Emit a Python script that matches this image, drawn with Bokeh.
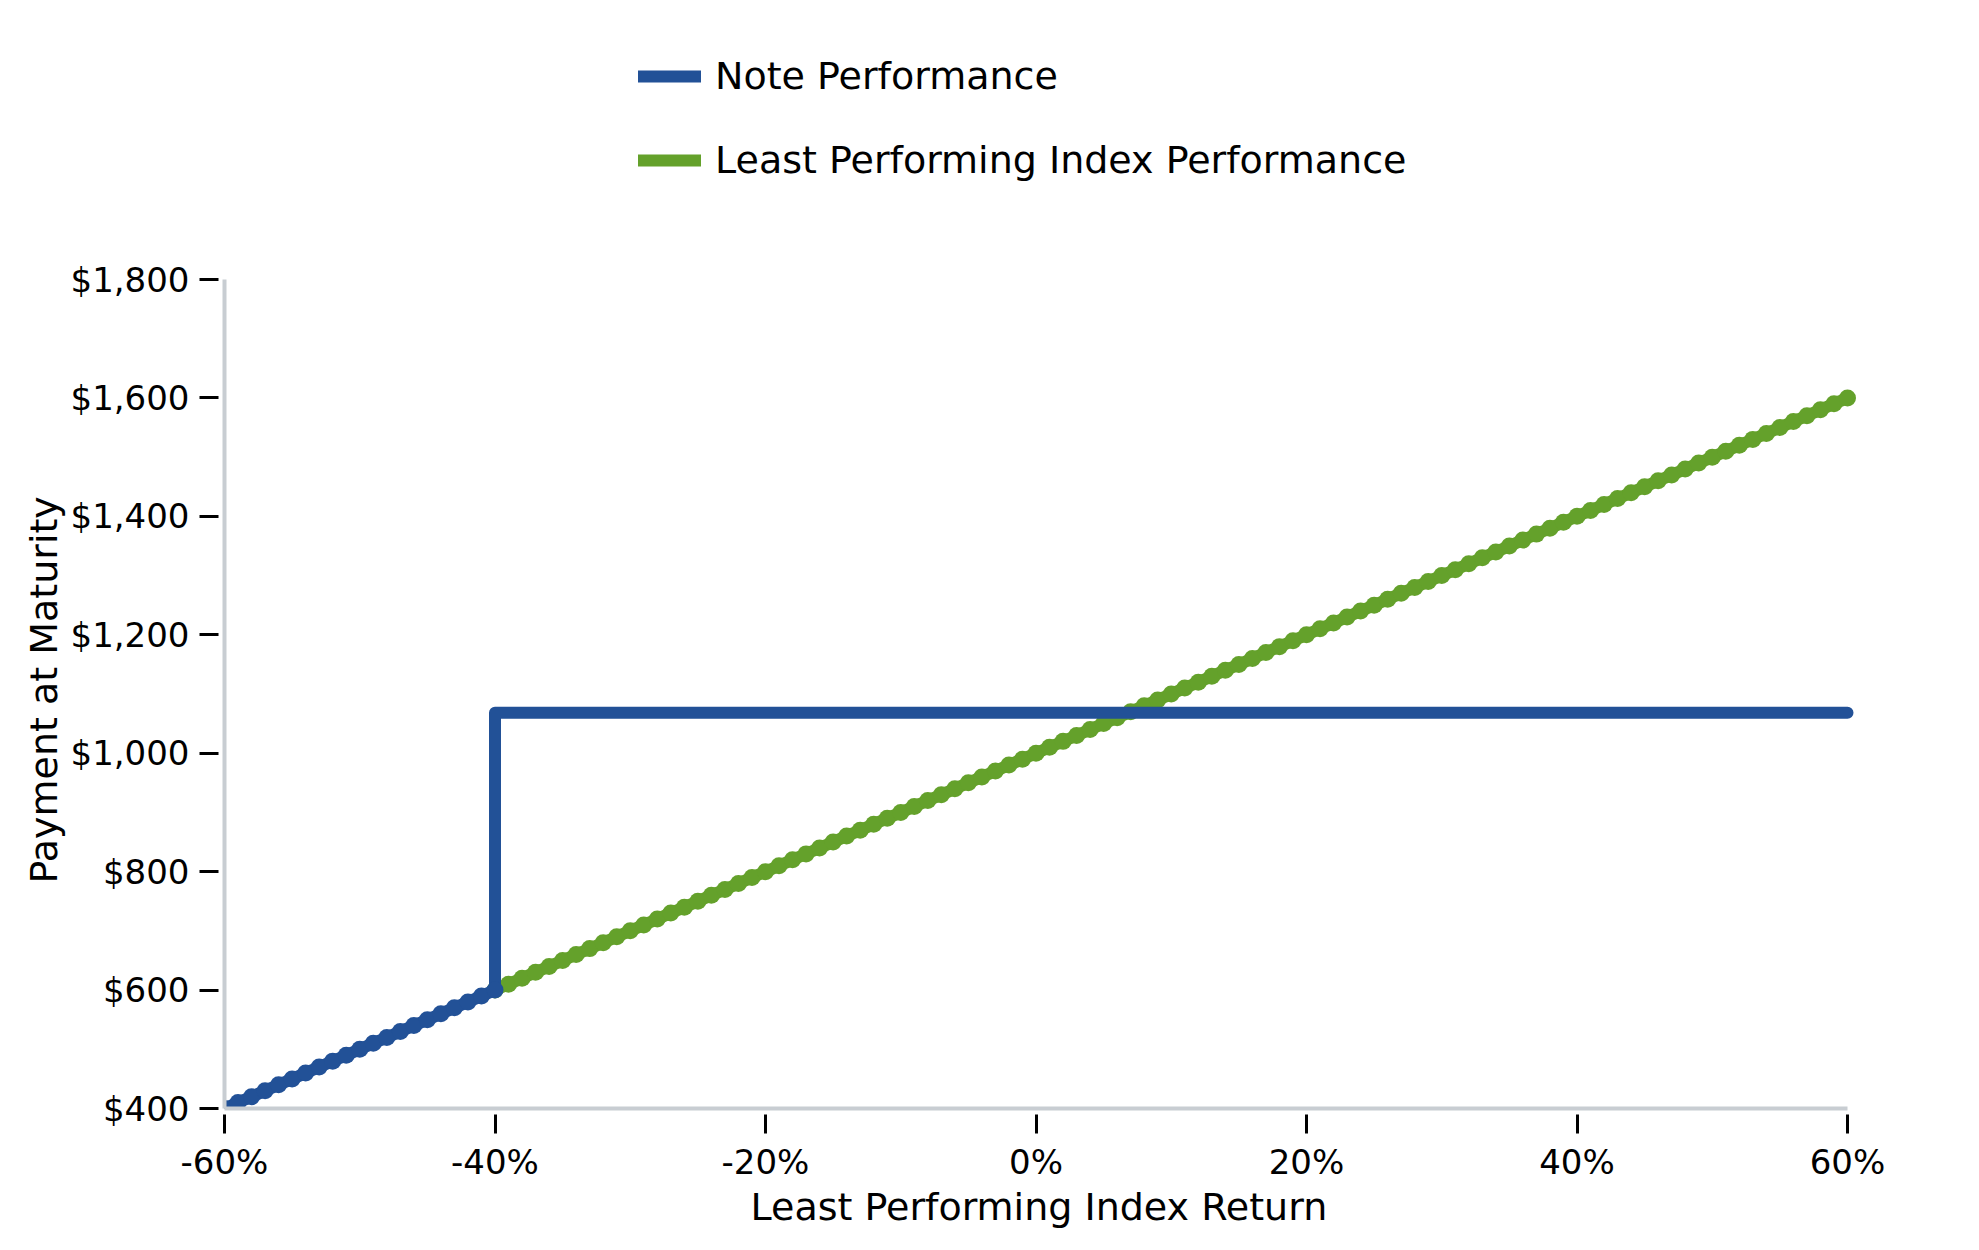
from bokeh.plotting import figure
from bokeh.models import Range1d, FixedTicker, Legend, LegendItem, Title
from bokeh.embed import file_html
from bokeh.resources import INLINE

# ---- data ----
index_returns = [-40, -39, -38, -37, -36, -35, -34, -33, -32, -31, -30, -29, -28, -27, -26, -25, -24, -23, -22, -21,
                 -20, -19, -18, -17, -16, -15, -14, -13, -12, -11, -10, -9, -8, -7, -6, -5, -4, -3, -2, -1,
                 0, 1, 2, 3, 4, 5, 6, 7, 8, 9, 10, 11, 12, 13, 14, 15, 16, 17, 18, 19,
                 20, 21, 22, 23, 24, 25, 26, 27, 28, 29, 30, 31, 32, 33, 34, 35, 36, 37, 38, 39,
                 40, 41, 42, 43, 44, 45, 46, 47, 48, 49, 50, 51, 52, 53, 54, 55, 56, 57, 58, 59, 60]
index_payment = [600, 610, 620, 630, 640, 650, 660, 670, 680, 690, 700, 710, 720, 730, 740, 750, 760, 770, 780, 790,
                 800, 810, 820, 830, 840, 850, 860, 870, 880, 890, 900, 910, 920, 930, 940, 950, 960, 970, 980, 990,
                 1000, 1010, 1020, 1030, 1040, 1050, 1060, 1070, 1080, 1090, 1100, 1110, 1120, 1130, 1140, 1150, 1160, 1170, 1180, 1190,
                 1200, 1210, 1220, 1230, 1240, 1250, 1260, 1270, 1280, 1290, 1300, 1310, 1320, 1330, 1340, 1350, 1360, 1370, 1380, 1390,
                 1400, 1410, 1420, 1430, 1440, 1450, 1460, 1470, 1480, 1490, 1500, 1510, 1520, 1530, 1540, 1550, 1560, 1570, 1580, 1590, 1600]

note_returns_low = [-60, -59, -58, -57, -56, -55, -54, -53, -52, -51, -50, -49, -48, -47, -46, -45, -44, -43, -42, -41, -40]
note_payment_low = [400, 410, 420, 430, 440, 450, 460, 470, 480, 490, 500, 510, 520, 530, 540, 550, 560, 570, 580, 590, 600]
note_returns_flat = [-40, 60]
note_payment_flat = [1068.5, 1068.5]

x_ticks = [-60, -40, -20, 0, 20, 40, 60]
x_tick_labels = ["-60%", "-40%", "-20%", "0%", "20%", "40%", "60%"]
y_ticks = [400, 600, 800, 1000, 1200, 1400, 1600, 1800]
y_tick_labels = ["$400", "$600", "$800", "$1,000", "$1,200", "$1,400", "$1,600", "$1,800"]

series_names = ["Note Performance", "Least Performing Index Performance"]
x_title = "Least Performing Index Return"
y_title = "Payment at Maturity"
BLUE = "#225197"
GREEN = "#64a12b"
SPINE = "#c8cdd2"
FONT = "DejaVu Sans"

# layout: axes span -60..60 over 1623px and 400..1800 over 829px;
# the frame is extended right and upward (legend area) beyond the axis bounds
AXW, AXH = 1623, 829
FW, FH = 1643, 1080
x_end = -60 + 120 * FW / AXW
y_end = 400 + 1400 * FH / AXH

p = figure(frame_width=FW, frame_height=FH,
           x_range=Range1d(-60, x_end), y_range=Range1d(400, y_end),
           output_backend="svg", toolbar_location=None,
           min_border_left=224, min_border_right=80,
           min_border_top=28, min_border_bottom=124)
p.outline_line_color = None
p.grid.visible = False
p.background_fill_color = "white"
p.border_fill_color = "white"

# index performance (green)
g_line = p.line(index_returns, index_payment, line_color=GREEN, line_width=12,
                line_cap="round", line_join="round")
p.scatter(index_returns, index_payment, size=17, fill_color=GREEN, line_color=None)

# note performance (blue)
note_x = note_returns_low + note_returns_flat
note_y = note_payment_low + note_payment_flat
b_line = p.line(note_x, note_y, line_color=BLUE, line_width=12,
                line_cap="round", line_join="round")
p.scatter(note_returns_low, note_payment_low, size=17, fill_color=BLUE, line_color=None)

# axes
for ax in (p.xaxis[0], p.yaxis[0]):
    ax.axis_line_color = SPINE
    ax.axis_line_width = 4
    ax.major_tick_line_color = "black"
    ax.major_tick_line_width = 3
    ax.major_tick_in = -6
    ax.major_tick_out = 25
    ax.minor_tick_line_color = None
    ax.major_label_text_font = FONT
    ax.major_label_text_font_size = "34px"
    ax.major_label_text_color = "black"

xa = p.xaxis[0]
xa.ticker = FixedTicker(ticks=x_ticks)
xa.major_label_overrides = dict(zip(x_ticks, x_tick_labels))
xa.bounds = (-60, 60)
xa.major_label_standoff = 8

ya = p.yaxis[0]
ya.ticker = FixedTicker(ticks=y_ticks)
ya.major_label_overrides = dict(zip(y_ticks, y_tick_labels))
ya.bounds = (400, 1800)
ya.major_label_standoff = 10

# axis titles, placed along the axis bounds rather than the (larger) frame
x_label = Title(text=x_title, align="left", offset=526, standoff=-4,
                text_font=FONT, text_font_size="38px", text_font_style="normal",
                text_color="black")
p.add_layout(x_label, "below")
y_label = Title(text=y_title, align="left", offset=225, standoff=3,
                text_font=FONT, text_font_size="38px", text_font_style="normal",
                text_color="black")
p.add_layout(y_label, "left")

legend = Legend(items=[LegendItem(label=series_names[0], renderers=[b_line]),
                       LegendItem(label=series_names[1], renderers=[g_line])],
                location=(414, 926), orientation="vertical",
                glyph_width=63, glyph_height=44, label_height=44, spacing=40,
                label_standoff=14, padding=0, margin=0,
                border_line_alpha=0, background_fill_alpha=0,
                label_text_font=FONT, label_text_font_size="38px",
                label_text_color="black")
p.add_layout(legend, "center")

open("out.html", "w").write(file_html(p, INLINE))
